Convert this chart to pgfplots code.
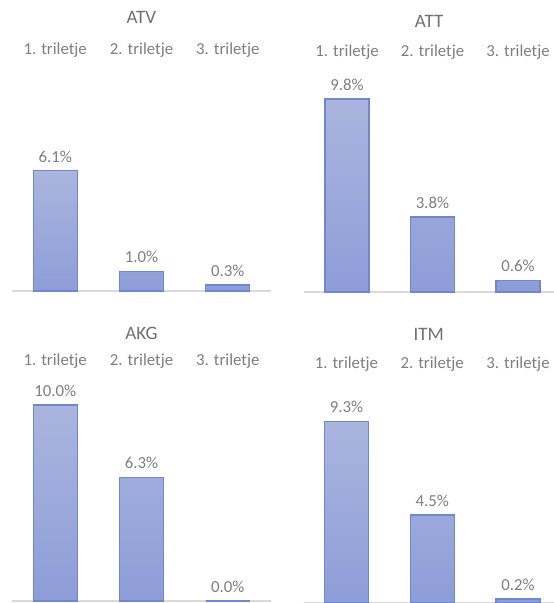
\documentclass[border=0pt]{standalone}
\usepackage{pgfplots}
\pgfplotsset{compat=1.18}
\usepackage{fontspec}
\setmainfont{Carlito}
\definecolor{txt}{HTML}{7E7E7E}
\definecolor{ttl}{HTML}{707070}
\definecolor{barTop}{HTML}{AAB5DE}
\definecolor{barBot}{HTML}{8D9DD8}
\definecolor{barEdge}{HTML}{6F86D1}
\definecolor{basecol}{HTML}{D9D9D9}
\newcommand{\lblfont}{\fontsize{16.8}{20}\selectfont}
\newcommand{\ttlfont}{\fontsize{19}{22}\selectfont}
\pgfplotsset{panel/.style={
  scale only axis, anchor=south west,
  ymin=0, enlargelimits=false, clip=false,
  axis line style={draw=none}, major tick length=0pt, ytick=\empty,
  xtick={0,1,2}, xticklabels={1. triletje,2. triletje,3. triletje},
  xticklabel pos=upper,
  xticklabel style={anchor=center, yshift=12pt, font=\lblfont, text=txt},
  title style={at={(0.5,1)}, anchor=center, font=\ttlfont, text=ttl},
  ybar, bar width=44pt, xmin=-0.5,
  /pgf/number format/assume math mode=true,
  nodes near coords={\pgfmathprintnumber[fixed,fixed zerofill,precision=1]{\pgfplotspointmeta}\%},
  every node near coord/.append style={font=\lblfont, text=txt, yshift=4.5pt},
}}
\pgfplotsset{barstyle/.style={draw=barEdge, line width=1.3pt, top color=barTop, bottom color=barBot}}
\begin{document}
\begin{tikzpicture}
\useasboundingbox (0pt,0pt) rectangle (554pt,603pt);
% ATV
\begin{axis}[panel, at={(12pt,312pt)}, width=259pt, height=229pt, xmax=2.5, ymax=11.62, title={ATV}, title style={yshift=39pt}]
\draw[basecol, line width=1.5pt] (rel axis cs:0,0) -- (rel axis cs:1,0);
\addplot[barstyle] coordinates {(0,6.1) (1,1.0) (2,0.3)};
\end{axis}
% ATT
\begin{axis}[panel, at={(304.25pt,311pt)}, width=249.75pt, height=228pt, xmax=2.42, ymax=11.57, title={ATT}, title style={yshift=37pt}]
\draw[basecol, line width=1.5pt] (rel axis cs:0,0) -- (rel axis cs:1,0);
\addplot[barstyle] coordinates {(0,9.8) (1,3.8) (2,0.6)};
\end{axis}
% AKG
\begin{axis}[panel, at={(12pt,2pt)}, width=259pt, height=228pt, xmax=2.5, ymax=11.63, title={AKG}, title style={yshift=34pt}]
\draw[basecol, line width=1.5pt] (rel axis cs:0,0) -- (rel axis cs:1,0);
\addplot[barstyle] coordinates {(0,10.0) (1,6.3) (2,0.0)};
\end{axis}
% ITM
\begin{axis}[panel, at={(303.5pt,0pt)}, width=250.5pt, height=227pt, xmax=2.42, ymax=11.61, title={ITM}, title style={yshift=36pt}]
\draw[basecol, line width=1.5pt] (rel axis cs:0,0) -- (rel axis cs:1,0);
\addplot[barstyle] coordinates {(0,9.3) (1,4.5) (2,0.2)};
\end{axis}
\end{tikzpicture}
\end{document}
